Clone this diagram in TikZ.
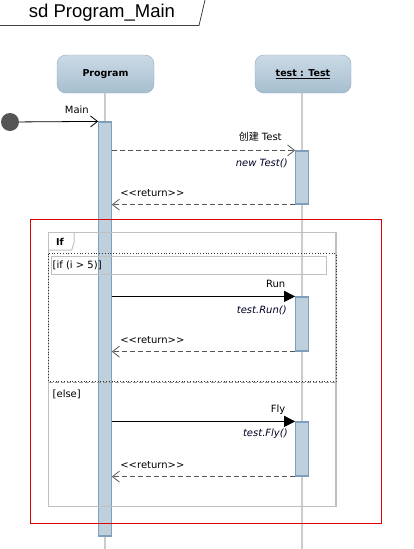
\documentclass[tikz,border=0pt]{standalone}
\usepackage{fontspec}
\setmainfont{DejaVu Sans}
\newfontfamily\titlefont{Liberation Sans}
\newfontfamily\cjk{Noto Sans CJK SC}
\usetikzlibrary{arrows.meta}
\definecolor{headtop}{HTML}{CBDAE6}
\definecolor{headbot}{HTML}{A6BECF}
\definecolor{headdraw}{HTML}{8EA9BE}
\definecolor{barfill}{HTML}{BFD0DD}
\definecolor{bardraw}{HTML}{7E9EBC}
\definecolor{lifegray}{HTML}{CCCCCC}
\definecolor{framegray}{HTML}{C0C0C0}
\definecolor{retgray}{HTML}{555555}
\definecolor{startgray}{HTML}{555555}
\definecolor{redframe}{HTML}{E00000}
\newcommand{\retlabel}{{<}{<}return{>}{>}}
\begin{document}
\begin{tikzpicture}[x=1pt,y=-1pt,
  head/.style={draw=headdraw, top color=headtop, bottom color=headbot, rounded corners=9pt,
    minimum height=38pt, inner sep=0pt, font=\fontsize{9.5}{11}\selectfont\bfseries},
  bar/.style={draw=bardraw, line width=1.2pt, fill=barfill, minimum width=12.5pt, inner sep=0pt},
  lifeline/.style={draw=lifegray, line width=1.6pt},
  call/.style={draw=black, line width=0.8pt, -{Straight Barb[length=7pt,width=11pt,line width=0.8pt]}},
  msg/.style={draw=black, line width=0.9pt, -{Triangle[length=11pt,width=11pt]}},
  ret/.style={draw=retgray, line width=1pt, dash pattern=on 5pt off 3pt, -{Straight Barb[length=7pt,width=11pt,line width=0.8pt]}},
  lbl/.style={inner sep=0pt, font=\fontsize{10}{12}\selectfont},
  ilbl/.style={inner sep=0pt, font=\fontsize{10}{12}\selectfont\itshape, text=black!85!blue},
  frame/.style={draw=framegray, line width=1.2pt}
]
\useasboundingbox (0,0) rectangle (413,549);

% title tab
\draw[draw=black!75, line width=0.8pt] (0,25.5) -- (199,25.5) -- (205,0);
\node[inner sep=0pt, font=\titlefont\fontsize{18.5}{20}\selectfont] (title) at (102,13) {sd Program\_Main};

% lifeline heads
\node[head, minimum width=97pt] (prog) at (105.5,74) {Program};
\node[head, minimum width=96pt] (test) at (303,74) {\underline{test : Test}};

% lifelines
\coordinate (pend) at (105,549);
\coordinate (tend) at (302,549);
\draw[lifeline] (prog.south -| pend) -- (pend);
\draw[lifeline] (test.south -| tend) -- (tend);

% activation bars
\node[bar, minimum height=414pt] (pbar) at (105,329) {};
\node[bar, minimum height=53pt] (t1) at (302,177.5) {};
\node[bar, minimum height=54pt] (t2) at (302,324) {};
\node[bar, minimum height=54pt] (t3) at (302,449) {};

% combined fragment
\draw[draw=redframe, line width=1pt] (30.5,219.3) rectangle (381.5,523.7);
\draw[frame] (48.7,232.7) rectangle (336,506.7);
\draw[frame, line width=1pt] (48.7,250) -- (71.7,250) -- (74,243) -- (74,232.7);
\node[inner sep=0pt, anchor=west, font=\fontsize{9.5}{11}\selectfont\bfseries] (iftab) at (56,241.5) {If};
\draw[draw=black!80, line width=0.8pt, dotted] (48.7,253.5) rectangle (336,381);
\draw[draw=black!40, line width=0.8pt, dash pattern=on 4pt off 2pt] (48.7,382.5) -- (336,382.5);
\draw[draw=framegray, line width=0.9pt] (51.7,256) rectangle (326,274);
\node[lbl, anchor=west] (guard1) at (52.5,265.5) {[if (i > 5)]};
\node[lbl, anchor=west] (guard2) at (52.5,394) {[else]};

% start
\node[circle, fill=startgray, minimum size=18pt, inner sep=0pt] (start) at (10,122) {};
\draw[call] (start) -- (pbar.north west)
  node[lbl, pos=1, anchor=east, xshift=-9pt, yshift=12pt] {Main};

% create
\draw[ret] (pbar.east |- t1.north) -- (t1.north west)
  node[lbl, pos=1, anchor=east, xshift=-13pt, yshift=14pt] {{\cjk 创建} Test}
  node[ilbl, pos=1, anchor=east, xshift=-7pt, yshift=-12.5pt] {new Test()};
\draw[ret] (t1.south west) -- (pbar.east |- t1.south)
  node[lbl, pos=1, anchor=west, xshift=8pt, yshift=12pt] {\retlabel};

% run
\draw[msg] (pbar.east |- t2.north) -- (t2.north west)
  node[lbl, pos=1, anchor=east, xshift=-9.5pt, yshift=12pt] {Run}
  node[ilbl, pos=1, anchor=east, xshift=-8pt, yshift=-13.5pt] {test.Run()};
\draw[ret] (t2.south west) -- (pbar.east |- t2.south)
  node[lbl, pos=1, anchor=west, xshift=8pt, yshift=12pt] {\retlabel};

% fly
\draw[msg] (pbar.east |- t3.north) -- (t3.north west)
  node[lbl, pos=1, anchor=east, xshift=-9.5pt, yshift=12pt] {Fly}
  node[ilbl, pos=1, anchor=east, xshift=-7pt, yshift=-12.5pt] {test.Fly()};
\draw[ret] (t3.south west) -- (pbar.east |- t3.south)
  node[lbl, pos=1, anchor=west, xshift=8pt, yshift=12pt] {\retlabel};
\end{tikzpicture}
\end{document}
